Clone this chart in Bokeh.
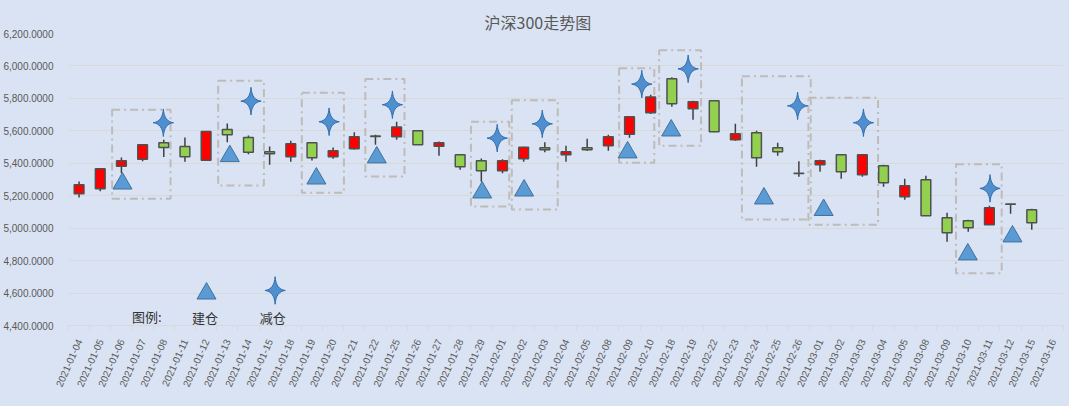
import math
from bokeh.plotting import figure
from bokeh.models import (
    ColumnDataSource,
    FixedTicker,
    NumeralTickFormatter,
    Title,
    Range1d
)
from bokeh.core.properties import value
from bokeh.embed import file_html
from bokeh.resources import INLINE

# trading days (the last one has no candle)
dates = ["2021-01-04", "2021-01-05", "2021-01-06", "2021-01-07", "2021-01-08",
         "2021-01-11", "2021-01-12", "2021-01-13", "2021-01-14", "2021-01-15",
         "2021-01-18", "2021-01-19", "2021-01-20", "2021-01-21", "2021-01-22",
         "2021-01-25", "2021-01-26", "2021-01-27", "2021-01-28", "2021-01-29",
         "2021-02-01", "2021-02-02", "2021-02-03", "2021-02-04", "2021-02-05",
         "2021-02-08", "2021-02-09", "2021-02-10", "2021-02-18", "2021-02-19",
         "2021-02-22", "2021-02-23", "2021-02-24", "2021-02-25", "2021-02-26",
         "2021-03-01", "2021-03-02", "2021-03-03", "2021-03-04", "2021-03-05",
         "2021-03-08", "2021-03-09", "2021-03-10", "2021-03-11", "2021-03-12",
         "2021-03-15", "2021-03-16"]

# daily prices
opens = [5212, 5243, 5382, 5425, 5526, 5504, 5419, 5608, 5559, 5471,
         5440, 5526, 5440, 5489, 5565, 5563, 5600, 5505, 5452, 5415,
         5354, 5428, 5495, 5452, 5495, 5508, 5579, 5711, 5921, 5736,
         5785, 5545, 5588, 5495, 5339, 5391, 5452, 5329, 5385, 5193,
         5298, 5064, 5045, 5021, 5149, 5113]
highs = [5288, 5368, 5436, 5515, 5545, 5559, 5597, 5645, 5571, 5504,
         5539, 5530, 5497, 5592, 5576, 5656, 5601, 5534, 5455, 5430,
         5425, 5502, 5530, 5508, 5551, 5576, 5690, 5822, 5931, 5785,
         5786, 5643, 5600, 5526, 5413, 5421, 5455, 5455, 5391, 5304,
         5323, 5095, 5052, 5138, 5150, 5119]
lows = [5189, 5228, 5339, 5413, 5438, 5409, 5419, 5530, 5456, 5391,
        5409, 5417, 5428, 5485, 5514, 5545, 5512, 5446, 5360, 5286,
        5339, 5409, 5468, 5409, 5477, 5477, 5557, 5703, 5748, 5668,
        5593, 5539, 5378, 5446, 5317, 5348, 5304, 5317, 5255, 5175,
        5075, 4916, 4978, 5020, 5089, 4990]
closes = [5267, 5366, 5415, 5514, 5497, 5440, 5596, 5576, 5468, 5458,
          5520, 5434, 5477, 5563, 5568, 5623, 5514, 5526, 5378, 5354,
          5415, 5499, 5483, 5471, 5483, 5563, 5687, 5808, 5767, 5779,
          5594, 5582, 5434, 5471, 5337, 5415, 5348, 5452, 5280, 5261,
          5076, 4971, 5002, 5126, 5147, 5033]

y_ticks = [4400, 4600, 4800, 5000, 5200, 5400, 5600, 5800, 6000, 6200]

# 建仓 (triangles) and 减仓 (stars): position in trading-day units, price
buy_x = [2.05, 7.12, 11.21, 14.06, 19.04, 21.02, 25.91, 27.97, 32.35, 35.17, 41.98, 44.09]
buy_y = [5275, 5444, 5306, 5436, 5220, 5232, 5467, 5602, 5183, 5112, 4838, 4949]
sell_x = [3.98, 8.12, 11.81, 14.80, 19.75, 21.88, 26.58, 28.77, 33.94, 37.05, 43.03]
sell_y = [5650, 5783, 5656, 5761, 5555, 5643, 5888, 5982, 5754, 5650, 5245]

# dash-dot boxes round each trade
box_left = [1.56, 6.57, 10.52, 13.52, 18.51, 20.44, 25.51, 27.40, 31.31, 34.45, 41.42]
box_right = [4.32, 8.73, 12.51, 15.37, 20.32, 22.61, 27.17, 29.38, 34.56, 37.74, 43.58]
box_top = [5730, 5909, 5835, 5919, 5656, 5789, 5986, 6097, 5937, 5804, 5394]
box_bottom = [5182, 5263, 5218, 5319, 5134, 5115, 5403, 5508, 5053, 5021, 4722]

# legend drawn inside the plot
legend_texts = ["图例:", "建仓", "减仓"]
legend_text_x = [3.2, 5.95, 9.15]
legend_text_y = [4458, 4452, 4450]
legend_buy = (6.02, 4597)
legend_sell = (9.26, 4616)

BG = "#DAE3F3"
GREY_TXT = "#595959"
FONT = "Liberation Sans"
CJK = "Noto Sans CJK SC"

source = ColumnDataSource(data=dict(
    x=list(range(len(opens))),
    high=highs,
    low=lows,
    top=[max(o, c) for o, c in zip(opens, closes)],
    bottom=[min(o, c) for o, c in zip(opens, closes)],
    color=["#FF0000" if c >= o else "#92D050" for o, c in zip(opens, closes)],
))

p = figure(width=1069, height=406, output_backend="svg", toolbar_location=None,
           x_range=Range1d(-0.5, len(dates) - 0.5),
           y_range=Range1d(y_ticks[0], y_ticks[-1]),
           min_border_left=63, min_border_right=6,
           min_border_top=33, min_border_bottom=81,
           background_fill_color=BG, border_fill_color=BG,
           outline_line_color=None)

p.add_layout(Title(text="沪深300走势图", align="left", offset=416, standoff=0,
                   text_font=CJK, text_font_size="16px", text_font_style="normal",
                   text_color=GREY_TXT), "above")

# grid / axes
p.xgrid.grid_line_color = None
p.ygrid.grid_line_color = "#D9D9D9"
p.yaxis.ticker = FixedTicker(ticks=y_ticks)
p.yaxis.formatter = NumeralTickFormatter(format="0,0.0000")
p.yaxis.axis_line_color = None
p.yaxis.major_tick_line_color = None
p.yaxis.minor_tick_line_color = None
p.yaxis.major_label_standoff = 9
p.xaxis.ticker = FixedTicker(ticks=list(range(len(dates))),
                             minor_ticks=[i - 0.5 for i in range(len(dates) + 1)])
p.xaxis.major_label_overrides = {i: d for i, d in enumerate(dates)}
p.xaxis.major_label_orientation = math.radians(66)
p.xaxis.axis_line_color = "#D9D9D9"
p.xaxis.major_tick_line_color = None
p.xaxis.minor_tick_line_color = "#D9D9D9"
p.xaxis.minor_tick_in = 0
p.xaxis.minor_tick_out = 5
p.xaxis.major_label_standoff = 8
for ax in (p.xaxis, p.yaxis):
    ax.major_label_text_font = FONT
    ax.major_label_text_font_size = "10px"
    ax.major_label_text_color = GREY_TXT

# boxes
p.quad(left=box_left, right=box_right, top=box_top, bottom=box_bottom,
       fill_color=None, line_color="#BFBBB8", line_width=2, line_dash="8 4 2 4")

# candles
p.segment("x", "high", "x", "low", source=source, line_color="#404040", line_width=1.5)
p.vbar(x="x", width=0.46, top="top", bottom="bottom", source=source,
       fill_color="color", line_color="#505050", line_width=1.5)


# 4-point star shape around a centre
def star(cx, cy, hw=0.48, hh=85.0, k=0.08, steps=8):
    tips = [(0, 1), (1, 0), (0, -1), (-1, 0)]
    xs, ys = [], []
    for i in range(4):
        ax_, ay_ = tips[i]
        bx_, by_ = tips[(i + 1) % 4]
        cxp, cyp = (ax_ + bx_) * k, (ay_ + by_) * k
        for s in range(steps):
            t = s / steps
            px = (1 - t) ** 2 * ax_ + 2 * (1 - t) * t * cxp + t ** 2 * bx_
            py = (1 - t) ** 2 * ay_ + 2 * (1 - t) * t * cyp + t ** 2 * by_
            xs.append(cx + px * hw)
            ys.append(cy + py * hh)
    return xs, ys


star_x = sell_x + [legend_sell[0]]
star_y = sell_y + [legend_sell[1]]
shapes = [star(x, y) for x, y in zip(star_x, star_y)]
p.patches([s[0] for s in shapes], [s[1] for s in shapes],
          fill_color="#4F8FCF", line_color="#2F6EAD", line_width=1)

p.scatter(buy_x + [legend_buy[0]], buy_y + [legend_buy[1]], marker="triangle",
          size=19, fill_color="#5B9BD5", line_color="#41719C", line_width=1)

p.text(legend_text_x, legend_text_y, text=legend_texts,
       text_font=value(CJK), text_font_size="13px", text_color="#333333",
       text_align="center", text_baseline="middle")

html = file_html(p, INLINE)
html = html.replace("<head>", "<head><style>html, body {background: %s;}</style>" % BG, 1)
open("out.html", "w").write(html)
